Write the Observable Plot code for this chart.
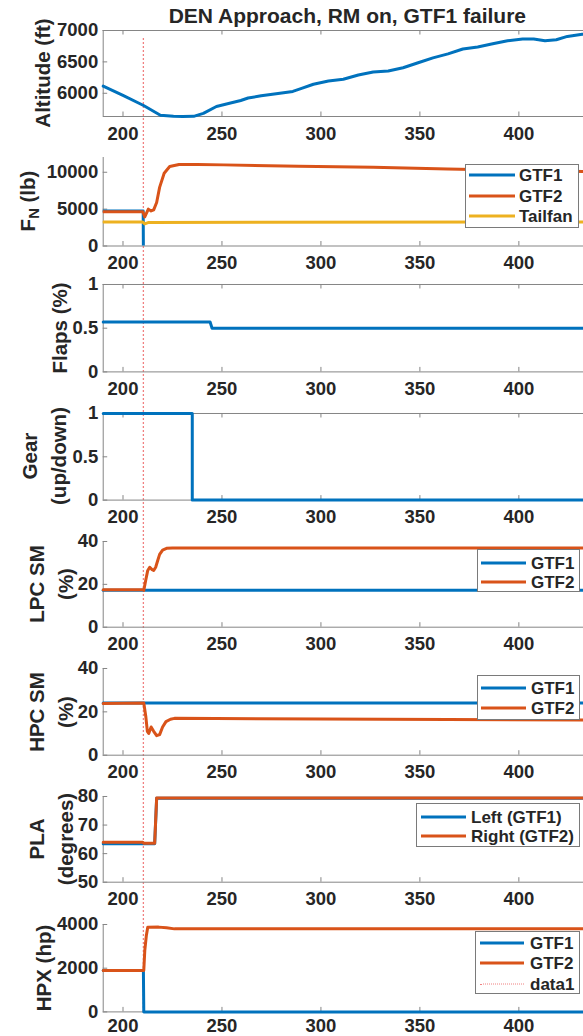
<!DOCTYPE html>
<html><head><meta charset="utf-8">
<script src="https://cdn.jsdelivr.net/npm/d3@7"></script>
<script src="https://cdn.jsdelivr.net/npm/@observablehq/plot@0.6"></script>
<style>
html,body{margin:0;padding:0;background:#fff;overflow:hidden;}
#fig{position:relative;width:583px;height:1036px;overflow:hidden;font-family:"Liberation Sans",Arial,sans-serif;font-weight:bold;color:#262626;}
.ylab{position:absolute;transform:translate(-50%,-50%) rotate(-90deg);white-space:nowrap;text-align:center;font-size:20.5px;line-height:29px;}
.ylab sub{font-size:0.72em;vertical-align:-0.3em;line-height:0;}
.title{position:absolute;transform:translateX(-50%);white-space:nowrap;font-size:21px;line-height:21px;}
.legend{position:absolute;background:#fff;border:1px solid #7a7a7a;box-sizing:border-box;}
.lrow{position:absolute;font-size:17px;line-height:17px;white-space:nowrap;transform:translateY(-50%);}
.lsw{position:absolute;height:0;transform:translateY(-50%);}
</style></head><body><div id="fig"></div><script>
// ---------- data ----------
const title = "DEN Approach, RM on, GTF1 failure";
const xTicks = [200, 250, 300, 350, 400];
const xDomain = [190, 437.2];
const failTime = 210.3;

const altTime = [190, 200, 210.4, 218.9, 225.5, 230.2, 235.7, 240.6, 247.2, 252.8, 259.5, 263.2, 269.8, 277.4, 285.8, 290.6, 296.2, 303.8, 311.3, 318.9, 326.4, 334, 341.5, 349.1, 356.6, 364.2, 371.7, 379.2, 386.8, 394.3, 401.9, 407.5, 413.2, 418.9, 424.5, 432, 437.2];
const altFt = [6113, 5965, 5805, 5650, 5633, 5630, 5632, 5680, 5790, 5834, 5885, 5924, 5960, 5992, 6029, 6081, 6144, 6196, 6223, 6291, 6339, 6354, 6407, 6486, 6564, 6627, 6706, 6738, 6790, 6837, 6864, 6864, 6837, 6853, 6906, 6940, 6955];

const fnGtf1Time = [190, 210.2, 210.3, 437.2];
const fnGtf1 = [4750, 4750, -300, -300];
const fnGtf2Time = [190, 210, 211, 212.8, 214.2, 215.5, 217, 218.5, 220.8, 223.6, 228.3, 237.7, 250.9, 288.7, 326.4, 364, 401.9, 437.2];
const fnGtf2 = [4650, 4650, 3950, 5000, 4750, 4900, 5900, 7950, 9860, 10770, 11050, 11050, 11000, 10820, 10680, 10450, 10230, 10100];
const fnTailTime = [190, 210, 211, 213, 437.2];
const fnTail = [3250, 3250, 3000, 3200, 3250];

const flapsTime = [190, 244, 245, 437.2];
const flaps = [0.57, 0.57, 0.5, 0.5];

const gearTime = [190, 235, 235, 437.2];
const gear = [1, 1, 0, 0];

const lpcGtf1Time = [190, 437.2];
const lpcGtf1 = [17.3, 17.3];
const lpcGtf2Time = [190, 210, 210.5, 211.5, 212.5, 213.5, 214.5, 215.5, 216.5, 217.5, 218.5, 220, 222, 225, 437.2];
const lpcGtf2 = [17.5, 17.5, 17.2, 22, 26.5, 28, 27, 26.5, 28, 31, 34, 36, 36.8, 37, 37];

const hpcGtf1Time = [190, 437.2];
const hpcGtf1 = [24.1, 24.1];
const hpcGtf2Time = [190, 210.5, 211.5, 212.3, 213, 214.2, 215.5, 217, 218.5, 220, 221.7, 224, 226, 300, 437.2];
const hpcGtf2 = [23.8, 24.1, 18, 11, 10, 13, 11, 9, 9.5, 13, 15.5, 16.6, 17, 16.7, 16.2];

const plaLeftTime = [190, 216, 217, 437.2];
const plaLeft = [63.5, 63.5, 79.4, 79.4];
const plaRightTime = [190, 210, 210.5, 216, 217, 437.2];
const plaRight = [64, 64, 63.6, 63.6, 79.5, 79.5];

const hpxGtf1Time = [190, 210.3, 210.5, 437.2];
const hpxGtf1 = [1900, 1900, 0, 0];
const hpxGtf2Time = [190, 210.5, 211, 211.8, 212.5, 218, 222, 226, 437.2];
const hpxGtf2 = [1900, 1900, 2800, 3500, 3870, 3880, 3850, 3800, 3800];

const gtfNames = ["GTF1", "GTF2", "Tailfan"];
const plaNames = ["Left (GTF1)", "Right (GTF2)"];
const hpxNames = ["GTF1", "GTF2", "data1"];

// ---------- styles / layout ----------
const C1 = "#0072BD", C2 = "#D95319", C3 = "#EDB120", CR = "#f08080";
const axisColor = "#858585";
const W = 592, ML = 102.7, MT = 12, MB = 34;
const pts = (t, v) => t.map((d, i) => ({t: d, v: v[i]}));

const panels = [
  {top: 30, bottom: 116, box: true, yDomain: [5630, 7000], yTicks: [6000, 6500, 7000],
   series: [[altTime, altFt, C1]], label: ["Altitude (ft)"], labelX: 42},
  {top: 156.5, bottom: 245, box: false, clip: true, yDomain: [0, 12000], yTicks: [0, 5000, 10000],
   series: [[fnGtf1Time, fnGtf1, C1], [fnGtf2Time, fnGtf2, C2], [fnTailTime, fnTail, C3]],
   label: ["F<sub>N</sub> (lb)"], labelX: 27,
   legend: {names: gtfNames, colors: [C1, C2, C3], left: 465, top: 164, w: 114, h: 64, rows: [175, 196, 216], sx: [469, 515], tx: 519}},
  {top: 284.3, bottom: 371.7, box: true, yDomain: [0, 1], yTicks: [0, 0.5, 1],
   series: [[flapsTime, flaps, C1]], label: ["Flaps (%)"], labelX: 59},
  {top: 412.7, bottom: 499.3, box: true, yDomain: [0, 1], yTicks: [0, 0.5, 1],
   series: [[gearTime, gear, C1]], label: ["Gear", "(up/down)"], labelX: 44},
  {top: 541, bottom: 626.7, box: false, yDomain: [0, 40], yTicks: [0, 20, 40],
   series: [[lpcGtf1Time, lpcGtf1, C1], [lpcGtf2Time, lpcGtf2, C2]], label: ["LPC SM", "(%)"], labelX: 51,
   legend: {names: gtfNames.slice(0, 2), colors: [C1, C2], left: 477, top: 549, w: 103, h: 43, rows: [563, 582], sx: [481, 526], tx: 531}},
  {top: 668.3, bottom: 755, box: false, yDomain: [0, 40], yTicks: [0, 20, 40],
   series: [[hpcGtf1Time, hpcGtf1, C1], [hpcGtf2Time, hpcGtf2, C2]], label: ["HPC SM", "(%)"], labelX: 51,
   legend: {names: gtfNames.slice(0, 2), colors: [C1, C2], left: 477, top: 675, w: 103, h: 45, rows: [688, 708], sx: [481, 526], tx: 531}},
  {top: 796, bottom: 881.7, box: false, yDomain: [50, 80], yTicks: [50, 60, 70, 80],
   series: [[plaLeftTime, plaLeft, C1], [plaRightTime, plaRight, C2]], label: ["PLA", "(degrees)"], labelX: 51,
   legend: {names: plaNames, colors: [C1, C2], left: 416, top: 803, w: 164, h: 44, rows: [817, 836], sx: [421, 466], tx: 471}},
  {top: 924.3, bottom: 1011.7, box: false, yDomain: [0, 4000], yTicks: [0, 2000, 4000], pad: 7,
   series: [[hpxGtf1Time, hpxGtf1, C1], [hpxGtf2Time, hpxGtf2, C2]], label: ["HPX (hp)"], labelX: 43,
   legend: {names: hpxNames, colors: [C1, C2, CR], dotted: [false, false, true], left: 475, top: 931, w: 105, h: 63, rows: [943, 963, 984], sx: [479.5, 524], tx: 530}}
];

const fig = document.getElementById("fig");
const baseStyle = {background: "transparent", fontFamily: "'Liberation Sans', Arial, sans-serif",
  fontSize: "18.5px", fontWeight: "bold", color: "#262626", overflow: "visible"};

// failure marker overlay (behind)
const overlay = Plot.plot({
  width: W, height: 1036, marginLeft: ML, marginRight: 0, marginTop: 38, marginBottom: 24,
  x: {domain: xDomain, axis: null},
  style: baseStyle,
  marks: [Plot.ruleX([failTime], {stroke: CR, strokeWidth: 1.3, strokeDasharray: "2,2"})]
});
overlay.style.position = "absolute"; overlay.style.left = "0px"; overlay.style.top = "0px"; overlay.style.maxWidth = "none";
fig.appendChild(overlay);

for (const p of panels) {
  const h = p.bottom - p.top;
  const marks = [
    Plot.ruleX([xDomain[0]], {stroke: axisColor, strokeWidth: 1}),
    Plot.ruleY([p.yDomain[0]], {stroke: axisColor, strokeWidth: 1}),
    Plot.ruleX(xTicks, {stroke: axisColor, insetTop: h - 4.5}),
    Plot.ruleY(p.yTicks, {stroke: axisColor, insetRight: W - ML - 4.5}),
    Plot.axisX({ticks: xTicks, tickSize: 0, tickPadding: p.pad ?? 10, tickFormat: d => String(d), label: null, fontSize: 18.5, fontWeight: "bold"}),
    Plot.axisY({ticks: p.yTicks, tickSize: 0, tickPadding: 5, tickFormat: d => String(d), label: null, fontSize: 18.5, fontWeight: "bold"})
  ];
  if (p.box) {
    marks.push(Plot.ruleY([p.yDomain[1]], {stroke: axisColor, strokeWidth: 1}));
    marks.push(Plot.ruleX(xTicks, {stroke: axisColor, insetBottom: h - 4.5}));
  }
  for (const [t, v, c] of p.series) {
    marks.push(Plot.line(pts(t, v), {x: "t", y: "v", stroke: c, strokeWidth: 3, clip: !!p.clip}));
  }
  const svg = Plot.plot({
    width: W, height: h + MT + MB, marginLeft: ML, marginRight: 0, marginTop: MT, marginBottom: MB,
    x: {domain: xDomain, label: null}, y: {domain: p.yDomain, label: null},
    style: baseStyle, marks
  });
  svg.style.position = "absolute"; svg.style.left = "0px"; svg.style.top = (p.top - MT) + "px"; svg.style.maxWidth = "none";
  fig.appendChild(svg);

  const lab = document.createElement("div");
  lab.className = "ylab";
  lab.innerHTML = p.label.join("<br>");
  lab.style.left = p.labelX + "px";
  lab.style.top = ((p.top + p.bottom) / 2) + "px";
  fig.appendChild(lab);

  if (p.legend) {
    const L = p.legend;
    const box = document.createElement("div");
    box.className = "legend";
    box.style.left = L.left + "px"; box.style.top = L.top + "px";
    box.style.width = L.w + "px"; box.style.height = L.h + "px";
    fig.appendChild(box);
    L.names.forEach((name, i) => {
      const sw = document.createElement("div");
      sw.className = "lsw";
      sw.style.left = L.sx[0] + "px"; sw.style.width = (L.sx[1] - L.sx[0]) + "px";
      sw.style.top = L.rows[i] + "px";
      sw.style.borderTop = (L.dotted && L.dotted[i]) ? `1.3px dotted ${L.colors[i]}` : `3px solid ${L.colors[i]}`;
      fig.appendChild(sw);
      const tx = document.createElement("div");
      tx.className = "lrow";
      tx.textContent = name;
      tx.style.left = L.tx + "px"; tx.style.top = L.rows[i] + "px";
      fig.appendChild(tx);
    });
  }
}

const t = document.createElement("div");
t.className = "title";
t.textContent = title;
t.style.left = (ML + (W - ML) / 2) + "px";
t.style.top = "5px";
fig.appendChild(t);
</script></body></html>
